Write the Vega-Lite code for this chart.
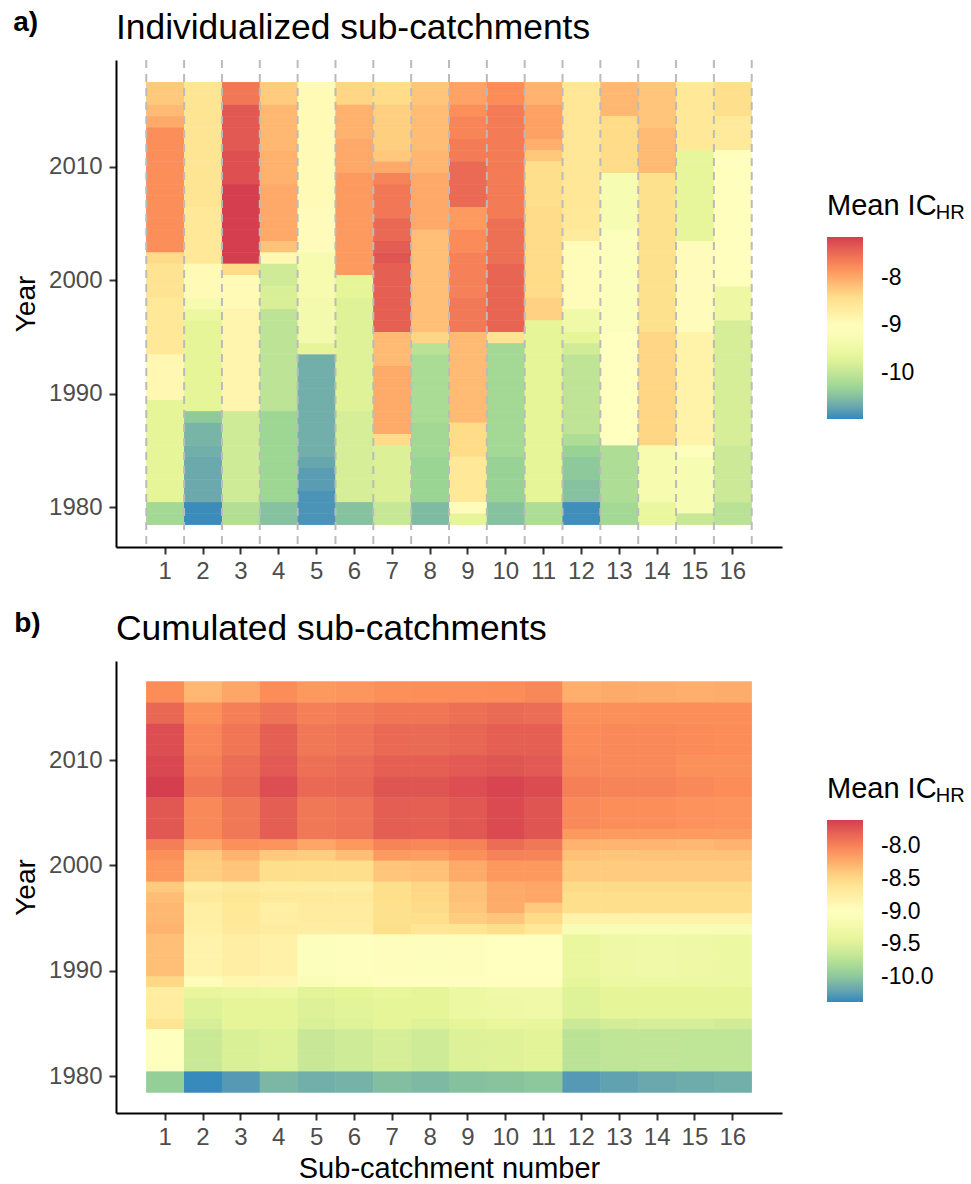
{"$schema":"https://vega.github.io/schema/vega-lite/v6.json","background":"white","padding":{"left":12,"top":9,"right":0,"bottom":0},"spacing":26,"resolve":{"scale":{"color":"independent"},"legend":{"color":"independent"}},
"datasets":{"a":[
{"c":1,"y":2017,"v":-8.23},{"c":1,"y":2016,"v":-8.23},{"c":1,"y":2015,"v":-8.11},{"c":1,"y":2014,"v":-7.99},{"c":1,"y":2013,"v":-7.78},{"c":1,"y":2012,"v":-7.78},{"c":1,"y":2011,"v":-7.78},{"c":1,"y":2010,"v":-7.78},{"c":1,"y":2009,"v":-7.78},{"c":1,"y":2008,"v":-7.78},{"c":1,"y":2007,"v":-7.78},{"c":1,"y":2006,"v":-7.78},{"c":1,"y":2005,"v":-7.78},{"c":1,"y":2004,"v":-7.78},{"c":1,"y":2003,"v":-7.78},{"c":1,"y":2002,"v":-8.37},{"c":1,"y":2001,"v":-8.5},{"c":1,"y":2000,"v":-8.5},{"c":1,"y":1999,"v":-8.5},{"c":1,"y":1998,"v":-8.58},{"c":1,"y":1997,"v":-8.58},{"c":1,"y":1996,"v":-8.58},{"c":1,"y":1995,"v":-8.58},{"c":1,"y":1994,"v":-8.58},{"c":1,"y":1993,"v":-8.9},{"c":1,"y":1992,"v":-8.9},{"c":1,"y":1991,"v":-8.9},{"c":1,"y":1990,"v":-8.9},{"c":1,"y":1989,"v":-9.68},{"c":1,"y":1988,"v":-9.68},{"c":1,"y":1987,"v":-9.68},{"c":1,"y":1986,"v":-9.68},{"c":1,"y":1985,"v":-9.68},{"c":1,"y":1984,"v":-9.68},{"c":1,"y":1983,"v":-9.68},{"c":1,"y":1982,"v":-9.68},{"c":1,"y":1981,"v":-9.68},{"c":1,"y":1980,"v":-10.25},{"c":1,"y":1979,"v":-10.25},
{"c":2,"y":2017,"v":-8.52},{"c":2,"y":2016,"v":-8.52},{"c":2,"y":2015,"v":-8.52},{"c":2,"y":2014,"v":-8.52},{"c":2,"y":2013,"v":-8.52},{"c":2,"y":2012,"v":-8.52},{"c":2,"y":2011,"v":-8.52},{"c":2,"y":2010,"v":-8.52},{"c":2,"y":2009,"v":-8.52},{"c":2,"y":2008,"v":-8.52},{"c":2,"y":2007,"v":-8.52},{"c":2,"y":2006,"v":-8.58},{"c":2,"y":2005,"v":-8.58},{"c":2,"y":2004,"v":-8.58},{"c":2,"y":2003,"v":-8.58},{"c":2,"y":2002,"v":-8.58},{"c":2,"y":2001,"v":-8.95},{"c":2,"y":2000,"v":-8.95},{"c":2,"y":1999,"v":-8.95},{"c":2,"y":1998,"v":-9.3},{"c":2,"y":1997,"v":-9.55},{"c":2,"y":1996,"v":-9.7},{"c":2,"y":1995,"v":-9.7},{"c":2,"y":1994,"v":-9.7},{"c":2,"y":1993,"v":-9.7},{"c":2,"y":1992,"v":-9.7},{"c":2,"y":1991,"v":-9.7},{"c":2,"y":1990,"v":-9.7},{"c":2,"y":1989,"v":-9.7},{"c":2,"y":1988,"v":-10.42},{"c":2,"y":1987,"v":-10.6},{"c":2,"y":1986,"v":-10.6},{"c":2,"y":1985,"v":-10.65},{"c":2,"y":1984,"v":-10.7},{"c":2,"y":1983,"v":-10.7},{"c":2,"y":1982,"v":-10.7},{"c":2,"y":1981,"v":-10.7},{"c":2,"y":1980,"v":-10.95},{"c":2,"y":1979,"v":-10.95},
{"c":3,"y":2017,"v":-7.58},{"c":3,"y":2016,"v":-7.58},{"c":3,"y":2015,"v":-7.33},{"c":3,"y":2014,"v":-7.33},{"c":3,"y":2013,"v":-7.33},{"c":3,"y":2012,"v":-7.33},{"c":3,"y":2011,"v":-7.25},{"c":3,"y":2010,"v":-7.25},{"c":3,"y":2009,"v":-7.25},{"c":3,"y":2008,"v":-7.13},{"c":3,"y":2007,"v":-7.13},{"c":3,"y":2006,"v":-7.13},{"c":3,"y":2005,"v":-7.13},{"c":3,"y":2004,"v":-7.13},{"c":3,"y":2003,"v":-7.13},{"c":3,"y":2002,"v":-7.13},{"c":3,"y":2001,"v":-8.38},{"c":3,"y":2000,"v":-8.95},{"c":3,"y":1999,"v":-8.95},{"c":3,"y":1998,"v":-8.95},{"c":3,"y":1997,"v":-8.85},{"c":3,"y":1996,"v":-8.85},{"c":3,"y":1995,"v":-8.85},{"c":3,"y":1994,"v":-8.85},{"c":3,"y":1993,"v":-8.85},{"c":3,"y":1992,"v":-8.85},{"c":3,"y":1991,"v":-8.85},{"c":3,"y":1990,"v":-8.85},{"c":3,"y":1989,"v":-8.85},{"c":3,"y":1988,"v":-9.9},{"c":3,"y":1987,"v":-9.9},{"c":3,"y":1986,"v":-9.9},{"c":3,"y":1985,"v":-9.9},{"c":3,"y":1984,"v":-9.9},{"c":3,"y":1983,"v":-9.9},{"c":3,"y":1982,"v":-9.9},{"c":3,"y":1981,"v":-9.9},{"c":3,"y":1980,"v":-10.13},{"c":3,"y":1979,"v":-10.13},
{"c":4,"y":2017,"v":-8.25},{"c":4,"y":2016,"v":-8.25},{"c":4,"y":2015,"v":-8.1},{"c":4,"y":2014,"v":-8.1},{"c":4,"y":2013,"v":-8.1},{"c":4,"y":2012,"v":-8.1},{"c":4,"y":2011,"v":-8.05},{"c":4,"y":2010,"v":-8.05},{"c":4,"y":2009,"v":-8.05},{"c":4,"y":2008,"v":-7.98},{"c":4,"y":2007,"v":-7.98},{"c":4,"y":2006,"v":-7.98},{"c":4,"y":2005,"v":-7.98},{"c":4,"y":2004,"v":-7.98},{"c":4,"y":2003,"v":-8.18},{"c":4,"y":2002,"v":-8.9},{"c":4,"y":2001,"v":-9.89},{"c":4,"y":2000,"v":-9.89},{"c":4,"y":1999,"v":-9.81},{"c":4,"y":1998,"v":-9.81},{"c":4,"y":1997,"v":-10.05},{"c":4,"y":1996,"v":-10.05},{"c":4,"y":1995,"v":-10.05},{"c":4,"y":1994,"v":-10.05},{"c":4,"y":1993,"v":-10.05},{"c":4,"y":1992,"v":-10.05},{"c":4,"y":1991,"v":-10.05},{"c":4,"y":1990,"v":-10.05},{"c":4,"y":1989,"v":-10.05},{"c":4,"y":1988,"v":-10.3},{"c":4,"y":1987,"v":-10.3},{"c":4,"y":1986,"v":-10.3},{"c":4,"y":1985,"v":-10.3},{"c":4,"y":1984,"v":-10.3},{"c":4,"y":1983,"v":-10.3},{"c":4,"y":1982,"v":-10.3},{"c":4,"y":1981,"v":-10.3},{"c":4,"y":1980,"v":-10.5},{"c":4,"y":1979,"v":-10.5},
{"c":5,"y":2017,"v":-8.95},{"c":5,"y":2016,"v":-8.95},{"c":5,"y":2015,"v":-8.95},{"c":5,"y":2014,"v":-8.95},{"c":5,"y":2013,"v":-8.95},{"c":5,"y":2012,"v":-8.95},{"c":5,"y":2011,"v":-8.95},{"c":5,"y":2010,"v":-8.95},{"c":5,"y":2009,"v":-8.95},{"c":5,"y":2008,"v":-8.95},{"c":5,"y":2007,"v":-8.95},{"c":5,"y":2006,"v":-9},{"c":5,"y":2005,"v":-9},{"c":5,"y":2004,"v":-9},{"c":5,"y":2003,"v":-9},{"c":5,"y":2002,"v":-9.3},{"c":5,"y":2001,"v":-9.3},{"c":5,"y":2000,"v":-9.3},{"c":5,"y":1999,"v":-9.3},{"c":5,"y":1998,"v":-9.35},{"c":5,"y":1997,"v":-9.35},{"c":5,"y":1996,"v":-9.35},{"c":5,"y":1995,"v":-9.35},{"c":5,"y":1994,"v":-9.68},{"c":5,"y":1993,"v":-10.65},{"c":5,"y":1992,"v":-10.65},{"c":5,"y":1991,"v":-10.65},{"c":5,"y":1990,"v":-10.65},{"c":5,"y":1989,"v":-10.65},{"c":5,"y":1988,"v":-10.65},{"c":5,"y":1987,"v":-10.65},{"c":5,"y":1986,"v":-10.65},{"c":5,"y":1985,"v":-10.65},{"c":5,"y":1984,"v":-10.72},{"c":5,"y":1983,"v":-10.8},{"c":5,"y":1982,"v":-10.8},{"c":5,"y":1981,"v":-10.88},{"c":5,"y":1980,"v":-10.88},{"c":5,"y":1979,"v":-10.88},
{"c":6,"y":2017,"v":-8.33},{"c":6,"y":2016,"v":-8.33},{"c":6,"y":2015,"v":-8.05},{"c":6,"y":2014,"v":-8.05},{"c":6,"y":2013,"v":-8.05},{"c":6,"y":2012,"v":-7.98},{"c":6,"y":2011,"v":-7.98},{"c":6,"y":2010,"v":-7.98},{"c":6,"y":2009,"v":-7.87},{"c":6,"y":2008,"v":-7.87},{"c":6,"y":2007,"v":-7.87},{"c":6,"y":2006,"v":-7.87},{"c":6,"y":2005,"v":-7.87},{"c":6,"y":2004,"v":-7.87},{"c":6,"y":2003,"v":-7.87},{"c":6,"y":2002,"v":-7.87},{"c":6,"y":2001,"v":-7.87},{"c":6,"y":2000,"v":-9.68},{"c":6,"y":1999,"v":-9.68},{"c":6,"y":1998,"v":-9.75},{"c":6,"y":1997,"v":-9.75},{"c":6,"y":1996,"v":-9.75},{"c":6,"y":1995,"v":-9.75},{"c":6,"y":1994,"v":-9.75},{"c":6,"y":1993,"v":-9.75},{"c":6,"y":1992,"v":-9.75},{"c":6,"y":1991,"v":-9.75},{"c":6,"y":1990,"v":-9.75},{"c":6,"y":1989,"v":-9.75},{"c":6,"y":1988,"v":-9.84},{"c":6,"y":1987,"v":-9.84},{"c":6,"y":1986,"v":-9.84},{"c":6,"y":1985,"v":-9.84},{"c":6,"y":1984,"v":-9.84},{"c":6,"y":1983,"v":-9.84},{"c":6,"y":1982,"v":-9.84},{"c":6,"y":1981,"v":-9.84},{"c":6,"y":1980,"v":-10.5},{"c":6,"y":1979,"v":-10.5},
{"c":7,"y":2017,"v":-8.38},{"c":7,"y":2016,"v":-8.38},{"c":7,"y":2015,"v":-8.28},{"c":7,"y":2014,"v":-8.28},{"c":7,"y":2013,"v":-8.28},{"c":7,"y":2012,"v":-8.28},{"c":7,"y":2011,"v":-8.22},{"c":7,"y":2010,"v":-7.98},{"c":7,"y":2009,"v":-7.68},{"c":7,"y":2008,"v":-7.58},{"c":7,"y":2007,"v":-7.58},{"c":7,"y":2006,"v":-7.58},{"c":7,"y":2005,"v":-7.46},{"c":7,"y":2004,"v":-7.46},{"c":7,"y":2003,"v":-7.36},{"c":7,"y":2002,"v":-7.3},{"c":7,"y":2001,"v":-7.38},{"c":7,"y":2000,"v":-7.38},{"c":7,"y":1999,"v":-7.38},{"c":7,"y":1998,"v":-7.38},{"c":7,"y":1997,"v":-7.38},{"c":7,"y":1996,"v":-7.38},{"c":7,"y":1995,"v":-8.12},{"c":7,"y":1994,"v":-8.12},{"c":7,"y":1993,"v":-8.12},{"c":7,"y":1992,"v":-8},{"c":7,"y":1991,"v":-8},{"c":7,"y":1990,"v":-8},{"c":7,"y":1989,"v":-8},{"c":7,"y":1988,"v":-8},{"c":7,"y":1987,"v":-8},{"c":7,"y":1986,"v":-8.38},{"c":7,"y":1985,"v":-9.79},{"c":7,"y":1984,"v":-9.79},{"c":7,"y":1983,"v":-9.79},{"c":7,"y":1982,"v":-9.79},{"c":7,"y":1981,"v":-9.79},{"c":7,"y":1980,"v":-9.98},{"c":7,"y":1979,"v":-9.98},
{"c":8,"y":2017,"v":-8.2},{"c":8,"y":2016,"v":-8.2},{"c":8,"y":2015,"v":-8.13},{"c":8,"y":2014,"v":-8.13},{"c":8,"y":2013,"v":-8.13},{"c":8,"y":2012,"v":-8.13},{"c":8,"y":2011,"v":-8.08},{"c":8,"y":2010,"v":-8.08},{"c":8,"y":2009,"v":-7.98},{"c":8,"y":2008,"v":-7.98},{"c":8,"y":2007,"v":-7.98},{"c":8,"y":2006,"v":-7.98},{"c":8,"y":2005,"v":-7.98},{"c":8,"y":2004,"v":-8.15},{"c":8,"y":2003,"v":-8.15},{"c":8,"y":2002,"v":-8.15},{"c":8,"y":2001,"v":-8.15},{"c":8,"y":2000,"v":-8.15},{"c":8,"y":1999,"v":-8.15},{"c":8,"y":1998,"v":-8.15},{"c":8,"y":1997,"v":-8.15},{"c":8,"y":1996,"v":-8.15},{"c":8,"y":1995,"v":-8.33},{"c":8,"y":1994,"v":-10.07},{"c":8,"y":1993,"v":-10.2},{"c":8,"y":1992,"v":-10.2},{"c":8,"y":1991,"v":-10.2},{"c":8,"y":1990,"v":-10.2},{"c":8,"y":1989,"v":-10.2},{"c":8,"y":1988,"v":-10.2},{"c":8,"y":1987,"v":-10.27},{"c":8,"y":1986,"v":-10.27},{"c":8,"y":1985,"v":-10.27},{"c":8,"y":1984,"v":-10.33},{"c":8,"y":1983,"v":-10.33},{"c":8,"y":1982,"v":-10.33},{"c":8,"y":1981,"v":-10.33},{"c":8,"y":1980,"v":-10.55},{"c":8,"y":1979,"v":-10.55},
{"c":9,"y":2017,"v":-7.93},{"c":9,"y":2016,"v":-7.93},{"c":9,"y":2015,"v":-7.79},{"c":9,"y":2014,"v":-7.7},{"c":9,"y":2013,"v":-7.7},{"c":9,"y":2012,"v":-7.62},{"c":9,"y":2011,"v":-7.62},{"c":9,"y":2010,"v":-7.47},{"c":9,"y":2009,"v":-7.47},{"c":9,"y":2008,"v":-7.47},{"c":9,"y":2007,"v":-7.47},{"c":9,"y":2006,"v":-7.87},{"c":9,"y":2005,"v":-7.87},{"c":9,"y":2004,"v":-7.75},{"c":9,"y":2003,"v":-7.75},{"c":9,"y":2002,"v":-7.67},{"c":9,"y":2001,"v":-7.67},{"c":9,"y":2000,"v":-7.67},{"c":9,"y":1999,"v":-7.67},{"c":9,"y":1998,"v":-7.6},{"c":9,"y":1997,"v":-7.6},{"c":9,"y":1996,"v":-7.6},{"c":9,"y":1995,"v":-8.12},{"c":9,"y":1994,"v":-8.12},{"c":9,"y":1993,"v":-8.12},{"c":9,"y":1992,"v":-8.12},{"c":9,"y":1991,"v":-8.12},{"c":9,"y":1990,"v":-8.12},{"c":9,"y":1989,"v":-8.12},{"c":9,"y":1988,"v":-8.12},{"c":9,"y":1987,"v":-8.38},{"c":9,"y":1986,"v":-8.38},{"c":9,"y":1985,"v":-8.38},{"c":9,"y":1984,"v":-8.58},{"c":9,"y":1983,"v":-8.58},{"c":9,"y":1982,"v":-8.58},{"c":9,"y":1981,"v":-8.58},{"c":9,"y":1980,"v":-9},{"c":9,"y":1979,"v":-9.68},
{"c":10,"y":2017,"v":-7.77},{"c":10,"y":2016,"v":-7.77},{"c":10,"y":2015,"v":-7.62},{"c":10,"y":2014,"v":-7.62},{"c":10,"y":2013,"v":-7.62},{"c":10,"y":2012,"v":-7.62},{"c":10,"y":2011,"v":-7.62},{"c":10,"y":2010,"v":-7.62},{"c":10,"y":2009,"v":-7.62},{"c":10,"y":2008,"v":-7.62},{"c":10,"y":2007,"v":-7.62},{"c":10,"y":2006,"v":-7.62},{"c":10,"y":2005,"v":-7.52},{"c":10,"y":2004,"v":-7.52},{"c":10,"y":2003,"v":-7.52},{"c":10,"y":2002,"v":-7.52},{"c":10,"y":2001,"v":-7.43},{"c":10,"y":2000,"v":-7.43},{"c":10,"y":1999,"v":-7.43},{"c":10,"y":1998,"v":-7.43},{"c":10,"y":1997,"v":-7.43},{"c":10,"y":1996,"v":-7.43},{"c":10,"y":1995,"v":-8.5},{"c":10,"y":1994,"v":-10.25},{"c":10,"y":1993,"v":-10.25},{"c":10,"y":1992,"v":-10.25},{"c":10,"y":1991,"v":-10.25},{"c":10,"y":1990,"v":-10.25},{"c":10,"y":1989,"v":-10.25},{"c":10,"y":1988,"v":-10.25},{"c":10,"y":1987,"v":-10.25},{"c":10,"y":1986,"v":-10.25},{"c":10,"y":1985,"v":-10.25},{"c":10,"y":1984,"v":-10.35},{"c":10,"y":1983,"v":-10.35},{"c":10,"y":1982,"v":-10.35},{"c":10,"y":1981,"v":-10.35},{"c":10,"y":1980,"v":-10.5},{"c":10,"y":1979,"v":-10.5},
{"c":11,"y":2017,"v":-8.06},{"c":11,"y":2016,"v":-8.06},{"c":11,"y":2015,"v":-7.92},{"c":11,"y":2014,"v":-7.92},{"c":11,"y":2013,"v":-7.92},{"c":11,"y":2012,"v":-8.03},{"c":11,"y":2011,"v":-8.22},{"c":11,"y":2010,"v":-8.42},{"c":11,"y":2009,"v":-8.42},{"c":11,"y":2008,"v":-8.42},{"c":11,"y":2007,"v":-8.42},{"c":11,"y":2006,"v":-8.38},{"c":11,"y":2005,"v":-8.38},{"c":11,"y":2004,"v":-8.38},{"c":11,"y":2003,"v":-8.38},{"c":11,"y":2002,"v":-8.38},{"c":11,"y":2001,"v":-8.38},{"c":11,"y":2000,"v":-8.38},{"c":11,"y":1999,"v":-8.38},{"c":11,"y":1998,"v":-8.3},{"c":11,"y":1997,"v":-8.3},{"c":11,"y":1996,"v":-9.68},{"c":11,"y":1995,"v":-9.68},{"c":11,"y":1994,"v":-9.68},{"c":11,"y":1993,"v":-9.68},{"c":11,"y":1992,"v":-9.68},{"c":11,"y":1991,"v":-9.68},{"c":11,"y":1990,"v":-9.68},{"c":11,"y":1989,"v":-9.68},{"c":11,"y":1988,"v":-9.68},{"c":11,"y":1987,"v":-9.68},{"c":11,"y":1986,"v":-9.68},{"c":11,"y":1985,"v":-9.68},{"c":11,"y":1984,"v":-9.68},{"c":11,"y":1983,"v":-9.68},{"c":11,"y":1982,"v":-9.68},{"c":11,"y":1981,"v":-9.68},{"c":11,"y":1980,"v":-10.17},{"c":11,"y":1979,"v":-10.17},
{"c":12,"y":2017,"v":-8.56},{"c":12,"y":2016,"v":-8.56},{"c":12,"y":2015,"v":-8.56},{"c":12,"y":2014,"v":-8.56},{"c":12,"y":2013,"v":-8.56},{"c":12,"y":2012,"v":-8.56},{"c":12,"y":2011,"v":-8.56},{"c":12,"y":2010,"v":-8.56},{"c":12,"y":2009,"v":-8.56},{"c":12,"y":2008,"v":-8.56},{"c":12,"y":2007,"v":-8.56},{"c":12,"y":2006,"v":-8.58},{"c":12,"y":2005,"v":-8.58},{"c":12,"y":2004,"v":-8.65},{"c":12,"y":2003,"v":-8.98},{"c":12,"y":2002,"v":-8.98},{"c":12,"y":2001,"v":-8.98},{"c":12,"y":2000,"v":-8.98},{"c":12,"y":1999,"v":-8.98},{"c":12,"y":1998,"v":-8.98},{"c":12,"y":1997,"v":-9.44},{"c":12,"y":1996,"v":-9.44},{"c":12,"y":1995,"v":-9.7},{"c":12,"y":1994,"v":-9.88},{"c":12,"y":1993,"v":-10.03},{"c":12,"y":1992,"v":-10.03},{"c":12,"y":1991,"v":-10.03},{"c":12,"y":1990,"v":-10.03},{"c":12,"y":1989,"v":-10.03},{"c":12,"y":1988,"v":-10.03},{"c":12,"y":1987,"v":-10.03},{"c":12,"y":1986,"v":-10.17},{"c":12,"y":1985,"v":-10.35},{"c":12,"y":1984,"v":-10.43},{"c":12,"y":1983,"v":-10.43},{"c":12,"y":1982,"v":-10.5},{"c":12,"y":1981,"v":-10.5},{"c":12,"y":1980,"v":-10.93},{"c":12,"y":1979,"v":-10.93},
{"c":13,"y":2017,"v":-8.1},{"c":13,"y":2016,"v":-8.1},{"c":13,"y":2015,"v":-8.1},{"c":13,"y":2014,"v":-8.38},{"c":13,"y":2013,"v":-8.38},{"c":13,"y":2012,"v":-8.38},{"c":13,"y":2011,"v":-8.38},{"c":13,"y":2010,"v":-8.38},{"c":13,"y":2009,"v":-9.25},{"c":13,"y":2008,"v":-9.25},{"c":13,"y":2007,"v":-9.25},{"c":13,"y":2006,"v":-9.25},{"c":13,"y":2005,"v":-9.25},{"c":13,"y":2004,"v":-9.12},{"c":13,"y":2003,"v":-9.12},{"c":13,"y":2002,"v":-9.12},{"c":13,"y":2001,"v":-9.12},{"c":13,"y":2000,"v":-9.12},{"c":13,"y":1999,"v":-9.12},{"c":13,"y":1998,"v":-9.12},{"c":13,"y":1997,"v":-9.12},{"c":13,"y":1996,"v":-9.12},{"c":13,"y":1995,"v":-9.05},{"c":13,"y":1994,"v":-9.05},{"c":13,"y":1993,"v":-9.05},{"c":13,"y":1992,"v":-9.05},{"c":13,"y":1991,"v":-9.05},{"c":13,"y":1990,"v":-9.05},{"c":13,"y":1989,"v":-9.05},{"c":13,"y":1988,"v":-9.05},{"c":13,"y":1987,"v":-9.05},{"c":13,"y":1986,"v":-9.05},{"c":13,"y":1985,"v":-10.17},{"c":13,"y":1984,"v":-10.17},{"c":13,"y":1983,"v":-10.17},{"c":13,"y":1982,"v":-10.17},{"c":13,"y":1981,"v":-10.17},{"c":13,"y":1980,"v":-10.25},{"c":13,"y":1979,"v":-10.25},
{"c":14,"y":2017,"v":-8.2},{"c":14,"y":2016,"v":-8.2},{"c":14,"y":2015,"v":-8.2},{"c":14,"y":2014,"v":-8.2},{"c":14,"y":2013,"v":-8.12},{"c":14,"y":2012,"v":-8.12},{"c":14,"y":2011,"v":-8.12},{"c":14,"y":2010,"v":-8.12},{"c":14,"y":2009,"v":-8.43},{"c":14,"y":2008,"v":-8.43},{"c":14,"y":2007,"v":-8.43},{"c":14,"y":2006,"v":-8.43},{"c":14,"y":2005,"v":-8.43},{"c":14,"y":2004,"v":-8.43},{"c":14,"y":2003,"v":-8.43},{"c":14,"y":2002,"v":-8.43},{"c":14,"y":2001,"v":-8.43},{"c":14,"y":2000,"v":-8.43},{"c":14,"y":1999,"v":-8.43},{"c":14,"y":1998,"v":-8.43},{"c":14,"y":1997,"v":-8.43},{"c":14,"y":1996,"v":-8.43},{"c":14,"y":1995,"v":-8.33},{"c":14,"y":1994,"v":-8.33},{"c":14,"y":1993,"v":-8.33},{"c":14,"y":1992,"v":-8.33},{"c":14,"y":1991,"v":-8.33},{"c":14,"y":1990,"v":-8.33},{"c":14,"y":1989,"v":-8.33},{"c":14,"y":1988,"v":-8.33},{"c":14,"y":1987,"v":-8.33},{"c":14,"y":1986,"v":-8.33},{"c":14,"y":1985,"v":-9.3},{"c":14,"y":1984,"v":-9.3},{"c":14,"y":1983,"v":-9.3},{"c":14,"y":1982,"v":-9.3},{"c":14,"y":1981,"v":-9.3},{"c":14,"y":1980,"v":-9.6},{"c":14,"y":1979,"v":-9.6},
{"c":15,"y":2017,"v":-8.58},{"c":15,"y":2016,"v":-8.58},{"c":15,"y":2015,"v":-8.58},{"c":15,"y":2014,"v":-8.58},{"c":15,"y":2013,"v":-8.58},{"c":15,"y":2012,"v":-8.58},{"c":15,"y":2011,"v":-9.65},{"c":15,"y":2010,"v":-9.65},{"c":15,"y":2009,"v":-9.65},{"c":15,"y":2008,"v":-9.65},{"c":15,"y":2007,"v":-9.65},{"c":15,"y":2006,"v":-9.65},{"c":15,"y":2005,"v":-9.65},{"c":15,"y":2004,"v":-9.65},{"c":15,"y":2003,"v":-9},{"c":15,"y":2002,"v":-9},{"c":15,"y":2001,"v":-9},{"c":15,"y":2000,"v":-9},{"c":15,"y":1999,"v":-9},{"c":15,"y":1998,"v":-9},{"c":15,"y":1997,"v":-9},{"c":15,"y":1996,"v":-9},{"c":15,"y":1995,"v":-8.78},{"c":15,"y":1994,"v":-8.78},{"c":15,"y":1993,"v":-8.78},{"c":15,"y":1992,"v":-8.78},{"c":15,"y":1991,"v":-8.78},{"c":15,"y":1990,"v":-8.78},{"c":15,"y":1989,"v":-8.78},{"c":15,"y":1988,"v":-8.78},{"c":15,"y":1987,"v":-8.78},{"c":15,"y":1986,"v":-8.78},{"c":15,"y":1985,"v":-9.1},{"c":15,"y":1984,"v":-9.25},{"c":15,"y":1983,"v":-9.25},{"c":15,"y":1982,"v":-9.25},{"c":15,"y":1981,"v":-9.25},{"c":15,"y":1980,"v":-9.25},{"c":15,"y":1979,"v":-9.95},
{"c":16,"y":2017,"v":-8.42},{"c":16,"y":2016,"v":-8.42},{"c":16,"y":2015,"v":-8.42},{"c":16,"y":2014,"v":-8.62},{"c":16,"y":2013,"v":-8.62},{"c":16,"y":2012,"v":-8.62},{"c":16,"y":2011,"v":-9.03},{"c":16,"y":2010,"v":-9.03},{"c":16,"y":2009,"v":-9.03},{"c":16,"y":2008,"v":-9.03},{"c":16,"y":2007,"v":-9.03},{"c":16,"y":2006,"v":-9.03},{"c":16,"y":2005,"v":-9.03},{"c":16,"y":2004,"v":-9.03},{"c":16,"y":2003,"v":-9.03},{"c":16,"y":2002,"v":-9.03},{"c":16,"y":2001,"v":-9.03},{"c":16,"y":2000,"v":-9.03},{"c":16,"y":1999,"v":-9.5},{"c":16,"y":1998,"v":-9.5},{"c":16,"y":1997,"v":-9.5},{"c":16,"y":1996,"v":-9.84},{"c":16,"y":1995,"v":-9.84},{"c":16,"y":1994,"v":-9.84},{"c":16,"y":1993,"v":-9.84},{"c":16,"y":1992,"v":-9.84},{"c":16,"y":1991,"v":-9.84},{"c":16,"y":1990,"v":-9.84},{"c":16,"y":1989,"v":-9.84},{"c":16,"y":1988,"v":-9.84},{"c":16,"y":1987,"v":-9.84},{"c":16,"y":1986,"v":-9.84},{"c":16,"y":1985,"v":-9.93},{"c":16,"y":1984,"v":-9.93},{"c":16,"y":1983,"v":-9.93},{"c":16,"y":1982,"v":-9.93},{"c":16,"y":1981,"v":-9.93},{"c":16,"y":1980,"v":-10.07},{"c":16,"y":1979,"v":-10.07}
],"b":[
{"c":1,"y":2017,"v":-8.06},{"c":1,"y":2016,"v":-8.06},{"c":1,"y":2015,"v":-7.83},{"c":1,"y":2014,"v":-7.83},{"c":1,"y":2013,"v":-7.68},{"c":1,"y":2012,"v":-7.68},{"c":1,"y":2011,"v":-7.68},{"c":1,"y":2010,"v":-7.65},{"c":1,"y":2009,"v":-7.65},{"c":1,"y":2008,"v":-7.6},{"c":1,"y":2007,"v":-7.6},{"c":1,"y":2006,"v":-7.74},{"c":1,"y":2005,"v":-7.74},{"c":1,"y":2004,"v":-7.74},{"c":1,"y":2003,"v":-7.74},{"c":1,"y":2002,"v":-7.97},{"c":1,"y":2001,"v":-8.08},{"c":1,"y":2000,"v":-8.12},{"c":1,"y":1999,"v":-8.12},{"c":1,"y":1998,"v":-8.4},{"c":1,"y":1997,"v":-8.32},{"c":1,"y":1996,"v":-8.3},{"c":1,"y":1995,"v":-8.3},{"c":1,"y":1994,"v":-8.27},{"c":1,"y":1993,"v":-8.34},{"c":1,"y":1992,"v":-8.34},{"c":1,"y":1991,"v":-8.34},{"c":1,"y":1990,"v":-8.34},{"c":1,"y":1989,"v":-8.48},{"c":1,"y":1988,"v":-8.72},{"c":1,"y":1987,"v":-8.7},{"c":1,"y":1986,"v":-8.7},{"c":1,"y":1985,"v":-8.6},{"c":1,"y":1984,"v":-9},{"c":1,"y":1983,"v":-9},{"c":1,"y":1982,"v":-9},{"c":1,"y":1981,"v":-9},{"c":1,"y":1980,"v":-9.95},{"c":1,"y":1979,"v":-9.95},
{"c":2,"y":2017,"v":-8.29},{"c":2,"y":2016,"v":-8.29},{"c":2,"y":2015,"v":-8.08},{"c":2,"y":2014,"v":-8.08},{"c":2,"y":2013,"v":-8.02},{"c":2,"y":2012,"v":-8.02},{"c":2,"y":2011,"v":-8.02},{"c":2,"y":2010,"v":-7.98},{"c":2,"y":2009,"v":-7.98},{"c":2,"y":2008,"v":-7.92},{"c":2,"y":2007,"v":-7.92},{"c":2,"y":2006,"v":-8.04},{"c":2,"y":2005,"v":-8.04},{"c":2,"y":2004,"v":-8.04},{"c":2,"y":2003,"v":-8.04},{"c":2,"y":2002,"v":-8.2},{"c":2,"y":2001,"v":-8.4},{"c":2,"y":2000,"v":-8.43},{"c":2,"y":1999,"v":-8.43},{"c":2,"y":1998,"v":-8.73},{"c":2,"y":1997,"v":-8.67},{"c":2,"y":1996,"v":-8.75},{"c":2,"y":1995,"v":-8.75},{"c":2,"y":1994,"v":-8.76},{"c":2,"y":1993,"v":-8.81},{"c":2,"y":1992,"v":-8.81},{"c":2,"y":1991,"v":-8.81},{"c":2,"y":1990,"v":-8.81},{"c":2,"y":1989,"v":-8.95},{"c":2,"y":1988,"v":-9.4},{"c":2,"y":1987,"v":-9.5},{"c":2,"y":1986,"v":-9.5},{"c":2,"y":1985,"v":-9.55},{"c":2,"y":1984,"v":-9.63},{"c":2,"y":1983,"v":-9.63},{"c":2,"y":1982,"v":-9.63},{"c":2,"y":1981,"v":-9.63},{"c":2,"y":1980,"v":-10.37},{"c":2,"y":1979,"v":-10.37},
{"c":3,"y":2017,"v":-8.2},{"c":3,"y":2016,"v":-8.2},{"c":3,"y":2015,"v":-7.98},{"c":3,"y":2014,"v":-7.98},{"c":3,"y":2013,"v":-7.92},{"c":3,"y":2012,"v":-7.92},{"c":3,"y":2011,"v":-7.92},{"c":3,"y":2010,"v":-7.86},{"c":3,"y":2009,"v":-7.86},{"c":3,"y":2008,"v":-7.83},{"c":3,"y":2007,"v":-7.83},{"c":3,"y":2006,"v":-7.93},{"c":3,"y":2005,"v":-7.93},{"c":3,"y":2004,"v":-7.93},{"c":3,"y":2003,"v":-7.93},{"c":3,"y":2002,"v":-8.08},{"c":3,"y":2001,"v":-8.27},{"c":3,"y":2000,"v":-8.38},{"c":3,"y":1999,"v":-8.38},{"c":3,"y":1998,"v":-8.66},{"c":3,"y":1997,"v":-8.61},{"c":3,"y":1996,"v":-8.64},{"c":3,"y":1995,"v":-8.64},{"c":3,"y":1994,"v":-8.66},{"c":3,"y":1993,"v":-8.74},{"c":3,"y":1992,"v":-8.74},{"c":3,"y":1991,"v":-8.74},{"c":3,"y":1990,"v":-8.74},{"c":3,"y":1989,"v":-8.85},{"c":3,"y":1988,"v":-9.35},{"c":3,"y":1987,"v":-9.45},{"c":3,"y":1986,"v":-9.45},{"c":3,"y":1985,"v":-9.45},{"c":3,"y":1984,"v":-9.53},{"c":3,"y":1983,"v":-9.53},{"c":3,"y":1982,"v":-9.53},{"c":3,"y":1981,"v":-9.53},{"c":3,"y":1980,"v":-10.27},{"c":3,"y":1979,"v":-10.27},
{"c":4,"y":2017,"v":-8.06},{"c":4,"y":2016,"v":-8.06},{"c":4,"y":2015,"v":-7.9},{"c":4,"y":2014,"v":-7.9},{"c":4,"y":2013,"v":-7.78},{"c":4,"y":2012,"v":-7.78},{"c":4,"y":2011,"v":-7.78},{"c":4,"y":2010,"v":-7.75},{"c":4,"y":2009,"v":-7.75},{"c":4,"y":2008,"v":-7.68},{"c":4,"y":2007,"v":-7.68},{"c":4,"y":2006,"v":-7.77},{"c":4,"y":2005,"v":-7.77},{"c":4,"y":2004,"v":-7.77},{"c":4,"y":2003,"v":-7.77},{"c":4,"y":2002,"v":-8.1},{"c":4,"y":2001,"v":-8.4},{"c":4,"y":2000,"v":-8.53},{"c":4,"y":1999,"v":-8.53},{"c":4,"y":1998,"v":-8.7},{"c":4,"y":1997,"v":-8.67},{"c":4,"y":1996,"v":-8.76},{"c":4,"y":1995,"v":-8.74},{"c":4,"y":1994,"v":-8.7},{"c":4,"y":1993,"v":-8.78},{"c":4,"y":1992,"v":-8.78},{"c":4,"y":1991,"v":-8.78},{"c":4,"y":1990,"v":-8.78},{"c":4,"y":1989,"v":-8.87},{"c":4,"y":1988,"v":-9.33},{"c":4,"y":1987,"v":-9.45},{"c":4,"y":1986,"v":-9.45},{"c":4,"y":1985,"v":-9.46},{"c":4,"y":1984,"v":-9.5},{"c":4,"y":1983,"v":-9.5},{"c":4,"y":1982,"v":-9.5},{"c":4,"y":1981,"v":-9.5},{"c":4,"y":1980,"v":-10.09},{"c":4,"y":1979,"v":-10.09},
{"c":5,"y":2017,"v":-8.12},{"c":5,"y":2016,"v":-8.12},{"c":5,"y":2015,"v":-7.98},{"c":5,"y":2014,"v":-7.98},{"c":5,"y":2013,"v":-7.93},{"c":5,"y":2012,"v":-7.93},{"c":5,"y":2011,"v":-7.93},{"c":5,"y":2010,"v":-7.88},{"c":5,"y":2009,"v":-7.88},{"c":5,"y":2008,"v":-7.84},{"c":5,"y":2007,"v":-7.84},{"c":5,"y":2006,"v":-7.93},{"c":5,"y":2005,"v":-7.93},{"c":5,"y":2004,"v":-7.93},{"c":5,"y":2003,"v":-7.93},{"c":5,"y":2002,"v":-8.2},{"c":5,"y":2001,"v":-8.42},{"c":5,"y":2000,"v":-8.53},{"c":5,"y":1999,"v":-8.53},{"c":5,"y":1998,"v":-8.72},{"c":5,"y":1997,"v":-8.67},{"c":5,"y":1996,"v":-8.7},{"c":5,"y":1995,"v":-8.7},{"c":5,"y":1994,"v":-8.72},{"c":5,"y":1993,"v":-9.04},{"c":5,"y":1992,"v":-9.04},{"c":5,"y":1991,"v":-9.04},{"c":5,"y":1990,"v":-9.04},{"c":5,"y":1989,"v":-9.1},{"c":5,"y":1988,"v":-9.47},{"c":5,"y":1987,"v":-9.51},{"c":5,"y":1986,"v":-9.51},{"c":5,"y":1985,"v":-9.53},{"c":5,"y":1984,"v":-9.64},{"c":5,"y":1983,"v":-9.64},{"c":5,"y":1982,"v":-9.64},{"c":5,"y":1981,"v":-9.64},{"c":5,"y":1980,"v":-10.14},{"c":5,"y":1979,"v":-10.14},
{"c":6,"y":2017,"v":-8.11},{"c":6,"y":2016,"v":-8.11},{"c":6,"y":2015,"v":-7.95},{"c":6,"y":2014,"v":-7.95},{"c":6,"y":2013,"v":-7.9},{"c":6,"y":2012,"v":-7.9},{"c":6,"y":2011,"v":-7.9},{"c":6,"y":2010,"v":-7.85},{"c":6,"y":2009,"v":-7.85},{"c":6,"y":2008,"v":-7.82},{"c":6,"y":2007,"v":-7.82},{"c":6,"y":2006,"v":-7.9},{"c":6,"y":2005,"v":-7.9},{"c":6,"y":2004,"v":-7.9},{"c":6,"y":2003,"v":-7.9},{"c":6,"y":2002,"v":-8.12},{"c":6,"y":2001,"v":-8.33},{"c":6,"y":2000,"v":-8.53},{"c":6,"y":1999,"v":-8.53},{"c":6,"y":1998,"v":-8.72},{"c":6,"y":1997,"v":-8.67},{"c":6,"y":1996,"v":-8.7},{"c":6,"y":1995,"v":-8.7},{"c":6,"y":1994,"v":-8.72},{"c":6,"y":1993,"v":-9},{"c":6,"y":1992,"v":-9},{"c":6,"y":1991,"v":-9},{"c":6,"y":1990,"v":-9},{"c":6,"y":1989,"v":-9.05},{"c":6,"y":1988,"v":-9.46},{"c":6,"y":1987,"v":-9.48},{"c":6,"y":1986,"v":-9.48},{"c":6,"y":1985,"v":-9.49},{"c":6,"y":1984,"v":-9.6},{"c":6,"y":1983,"v":-9.6},{"c":6,"y":1982,"v":-9.6},{"c":6,"y":1981,"v":-9.6},{"c":6,"y":1980,"v":-10.12},{"c":6,"y":1979,"v":-10.12},
{"c":7,"y":2017,"v":-8.08},{"c":7,"y":2016,"v":-8.08},{"c":7,"y":2015,"v":-7.92},{"c":7,"y":2014,"v":-7.92},{"c":7,"y":2013,"v":-7.84},{"c":7,"y":2012,"v":-7.84},{"c":7,"y":2011,"v":-7.84},{"c":7,"y":2010,"v":-7.78},{"c":7,"y":2009,"v":-7.78},{"c":7,"y":2008,"v":-7.72},{"c":7,"y":2007,"v":-7.72},{"c":7,"y":2006,"v":-7.77},{"c":7,"y":2005,"v":-7.77},{"c":7,"y":2004,"v":-7.77},{"c":7,"y":2003,"v":-7.77},{"c":7,"y":2002,"v":-8},{"c":7,"y":2001,"v":-8.13},{"c":7,"y":2000,"v":-8.38},{"c":7,"y":1999,"v":-8.38},{"c":7,"y":1998,"v":-8.52},{"c":7,"y":1997,"v":-8.52},{"c":7,"y":1996,"v":-8.54},{"c":7,"y":1995,"v":-8.54},{"c":7,"y":1994,"v":-8.53},{"c":7,"y":1993,"v":-8.96},{"c":7,"y":1992,"v":-8.96},{"c":7,"y":1991,"v":-8.96},{"c":7,"y":1990,"v":-8.96},{"c":7,"y":1989,"v":-8.98},{"c":7,"y":1988,"v":-9.4},{"c":7,"y":1987,"v":-9.45},{"c":7,"y":1986,"v":-9.45},{"c":7,"y":1985,"v":-9.45},{"c":7,"y":1984,"v":-9.55},{"c":7,"y":1983,"v":-9.55},{"c":7,"y":1982,"v":-9.55},{"c":7,"y":1981,"v":-9.55},{"c":7,"y":1980,"v":-10.05},{"c":7,"y":1979,"v":-10.05},
{"c":8,"y":2017,"v":-8.07},{"c":8,"y":2016,"v":-8.07},{"c":8,"y":2015,"v":-7.92},{"c":8,"y":2014,"v":-7.92},{"c":8,"y":2013,"v":-7.85},{"c":8,"y":2012,"v":-7.85},{"c":8,"y":2011,"v":-7.85},{"c":8,"y":2010,"v":-7.78},{"c":8,"y":2009,"v":-7.78},{"c":8,"y":2008,"v":-7.72},{"c":8,"y":2007,"v":-7.72},{"c":8,"y":2006,"v":-7.78},{"c":8,"y":2005,"v":-7.78},{"c":8,"y":2004,"v":-7.78},{"c":8,"y":2003,"v":-7.78},{"c":8,"y":2002,"v":-8.03},{"c":8,"y":2001,"v":-8.15},{"c":8,"y":2000,"v":-8.35},{"c":8,"y":1999,"v":-8.35},{"c":8,"y":1998,"v":-8.47},{"c":8,"y":1997,"v":-8.48},{"c":8,"y":1996,"v":-8.5},{"c":8,"y":1995,"v":-8.52},{"c":8,"y":1994,"v":-8.62},{"c":8,"y":1993,"v":-9.03},{"c":8,"y":1992,"v":-9.03},{"c":8,"y":1991,"v":-9.03},{"c":8,"y":1990,"v":-9.03},{"c":8,"y":1989,"v":-8.98},{"c":8,"y":1988,"v":-9.44},{"c":8,"y":1987,"v":-9.46},{"c":8,"y":1986,"v":-9.46},{"c":8,"y":1985,"v":-9.49},{"c":8,"y":1984,"v":-9.6},{"c":8,"y":1983,"v":-9.6},{"c":8,"y":1982,"v":-9.6},{"c":8,"y":1981,"v":-9.6},{"c":8,"y":1980,"v":-10.08},{"c":8,"y":1979,"v":-10.08},
{"c":9,"y":2017,"v":-8.07},{"c":9,"y":2016,"v":-8.07},{"c":9,"y":2015,"v":-7.88},{"c":9,"y":2014,"v":-7.88},{"c":9,"y":2013,"v":-7.82},{"c":9,"y":2012,"v":-7.82},{"c":9,"y":2011,"v":-7.82},{"c":9,"y":2010,"v":-7.75},{"c":9,"y":2009,"v":-7.75},{"c":9,"y":2008,"v":-7.68},{"c":9,"y":2007,"v":-7.68},{"c":9,"y":2006,"v":-7.74},{"c":9,"y":2005,"v":-7.74},{"c":9,"y":2004,"v":-7.74},{"c":9,"y":2003,"v":-7.74},{"c":9,"y":2002,"v":-7.99},{"c":9,"y":2001,"v":-8.08},{"c":9,"y":2000,"v":-8.22},{"c":9,"y":1999,"v":-8.22},{"c":9,"y":1998,"v":-8.35},{"c":9,"y":1997,"v":-8.35},{"c":9,"y":1996,"v":-8.37},{"c":9,"y":1995,"v":-8.42},{"c":9,"y":1994,"v":-8.6},{"c":9,"y":1993,"v":-8.96},{"c":9,"y":1992,"v":-8.96},{"c":9,"y":1991,"v":-8.96},{"c":9,"y":1990,"v":-8.96},{"c":9,"y":1989,"v":-8.98},{"c":9,"y":1988,"v":-9.33},{"c":9,"y":1987,"v":-9.33},{"c":9,"y":1986,"v":-9.33},{"c":9,"y":1985,"v":-9.44},{"c":9,"y":1984,"v":-9.51},{"c":9,"y":1983,"v":-9.51},{"c":9,"y":1982,"v":-9.51},{"c":9,"y":1981,"v":-9.51},{"c":9,"y":1980,"v":-10.03},{"c":9,"y":1979,"v":-10.03},
{"c":10,"y":2017,"v":-8.06},{"c":10,"y":2016,"v":-8.06},{"c":10,"y":2015,"v":-7.85},{"c":10,"y":2014,"v":-7.85},{"c":10,"y":2013,"v":-7.78},{"c":10,"y":2012,"v":-7.78},{"c":10,"y":2011,"v":-7.78},{"c":10,"y":2010,"v":-7.72},{"c":10,"y":2009,"v":-7.72},{"c":10,"y":2008,"v":-7.63},{"c":10,"y":2007,"v":-7.63},{"c":10,"y":2006,"v":-7.66},{"c":10,"y":2005,"v":-7.66},{"c":10,"y":2004,"v":-7.66},{"c":10,"y":2003,"v":-7.66},{"c":10,"y":2002,"v":-7.86},{"c":10,"y":2001,"v":-7.99},{"c":10,"y":2000,"v":-8.12},{"c":10,"y":1999,"v":-8.12},{"c":10,"y":1998,"v":-8.22},{"c":10,"y":1997,"v":-8.22},{"c":10,"y":1996,"v":-8.23},{"c":10,"y":1995,"v":-8.37},{"c":10,"y":1994,"v":-8.52},{"c":10,"y":1993,"v":-8.99},{"c":10,"y":1992,"v":-8.99},{"c":10,"y":1991,"v":-8.99},{"c":10,"y":1990,"v":-8.99},{"c":10,"y":1989,"v":-8.98},{"c":10,"y":1988,"v":-9.28},{"c":10,"y":1987,"v":-9.3},{"c":10,"y":1986,"v":-9.3},{"c":10,"y":1985,"v":-9.4},{"c":10,"y":1984,"v":-9.49},{"c":10,"y":1983,"v":-9.49},{"c":10,"y":1982,"v":-9.49},{"c":10,"y":1981,"v":-9.49},{"c":10,"y":1980,"v":-10.02},{"c":10,"y":1979,"v":-10.02},
{"c":11,"y":2017,"v":-8.03},{"c":11,"y":2016,"v":-8.03},{"c":11,"y":2015,"v":-7.86},{"c":11,"y":2014,"v":-7.86},{"c":11,"y":2013,"v":-7.78},{"c":11,"y":2012,"v":-7.78},{"c":11,"y":2011,"v":-7.78},{"c":11,"y":2010,"v":-7.75},{"c":11,"y":2009,"v":-7.75},{"c":11,"y":2008,"v":-7.67},{"c":11,"y":2007,"v":-7.67},{"c":11,"y":2006,"v":-7.72},{"c":11,"y":2005,"v":-7.72},{"c":11,"y":2004,"v":-7.72},{"c":11,"y":2003,"v":-7.72},{"c":11,"y":2002,"v":-7.93},{"c":11,"y":2001,"v":-8},{"c":11,"y":2000,"v":-8.12},{"c":11,"y":1999,"v":-8.12},{"c":11,"y":1998,"v":-8.2},{"c":11,"y":1997,"v":-8.2},{"c":11,"y":1996,"v":-8.4},{"c":11,"y":1995,"v":-8.5},{"c":11,"y":1994,"v":-8.64},{"c":11,"y":1993,"v":-8.99},{"c":11,"y":1992,"v":-8.99},{"c":11,"y":1991,"v":-8.99},{"c":11,"y":1990,"v":-8.99},{"c":11,"y":1989,"v":-8.98},{"c":11,"y":1988,"v":-9.28},{"c":11,"y":1987,"v":-9.28},{"c":11,"y":1986,"v":-9.28},{"c":11,"y":1985,"v":-9.4},{"c":11,"y":1984,"v":-9.47},{"c":11,"y":1983,"v":-9.47},{"c":11,"y":1982,"v":-9.47},{"c":11,"y":1981,"v":-9.47},{"c":11,"y":1980,"v":-9.99},{"c":11,"y":1979,"v":-9.99},
{"c":12,"y":2017,"v":-8.24},{"c":12,"y":2016,"v":-8.24},{"c":12,"y":2015,"v":-8.08},{"c":12,"y":2014,"v":-8.08},{"c":12,"y":2013,"v":-8.05},{"c":12,"y":2012,"v":-8.05},{"c":12,"y":2011,"v":-8.05},{"c":12,"y":2010,"v":-8.03},{"c":12,"y":2009,"v":-8.03},{"c":12,"y":2008,"v":-7.98},{"c":12,"y":2007,"v":-7.98},{"c":12,"y":2006,"v":-8.04},{"c":12,"y":2005,"v":-8.04},{"c":12,"y":2004,"v":-8.04},{"c":12,"y":2003,"v":-8.12},{"c":12,"y":2002,"v":-8.27},{"c":12,"y":2001,"v":-8.35},{"c":12,"y":2000,"v":-8.41},{"c":12,"y":1999,"v":-8.41},{"c":12,"y":1998,"v":-8.5},{"c":12,"y":1997,"v":-8.52},{"c":12,"y":1996,"v":-8.53},{"c":12,"y":1995,"v":-8.8},{"c":12,"y":1994,"v":-9.12},{"c":12,"y":1993,"v":-9.38},{"c":12,"y":1992,"v":-9.38},{"c":12,"y":1991,"v":-9.38},{"c":12,"y":1990,"v":-9.38},{"c":12,"y":1989,"v":-9.42},{"c":12,"y":1988,"v":-9.49},{"c":12,"y":1987,"v":-9.5},{"c":12,"y":1986,"v":-9.5},{"c":12,"y":1985,"v":-9.62},{"c":12,"y":1984,"v":-9.72},{"c":12,"y":1983,"v":-9.72},{"c":12,"y":1982,"v":-9.72},{"c":12,"y":1981,"v":-9.72},{"c":12,"y":1980,"v":-10.27},{"c":12,"y":1979,"v":-10.27},
{"c":13,"y":2017,"v":-8.22},{"c":13,"y":2016,"v":-8.22},{"c":13,"y":2015,"v":-8.08},{"c":13,"y":2014,"v":-8.08},{"c":13,"y":2013,"v":-8.04},{"c":13,"y":2012,"v":-8.04},{"c":13,"y":2011,"v":-8.04},{"c":13,"y":2010,"v":-8.04},{"c":13,"y":2009,"v":-8.04},{"c":13,"y":2008,"v":-8},{"c":13,"y":2007,"v":-8},{"c":13,"y":2006,"v":-8.07},{"c":13,"y":2005,"v":-8.07},{"c":13,"y":2004,"v":-8.07},{"c":13,"y":2003,"v":-8.13},{"c":13,"y":2002,"v":-8.28},{"c":13,"y":2001,"v":-8.37},{"c":13,"y":2000,"v":-8.41},{"c":13,"y":1999,"v":-8.41},{"c":13,"y":1998,"v":-8.5},{"c":13,"y":1997,"v":-8.52},{"c":13,"y":1996,"v":-8.53},{"c":13,"y":1995,"v":-8.8},{"c":13,"y":1994,"v":-9.12},{"c":13,"y":1993,"v":-9.3},{"c":13,"y":1992,"v":-9.3},{"c":13,"y":1991,"v":-9.3},{"c":13,"y":1990,"v":-9.3},{"c":13,"y":1989,"v":-9.33},{"c":13,"y":1988,"v":-9.46},{"c":13,"y":1987,"v":-9.46},{"c":13,"y":1986,"v":-9.46},{"c":13,"y":1985,"v":-9.57},{"c":13,"y":1984,"v":-9.69},{"c":13,"y":1983,"v":-9.69},{"c":13,"y":1982,"v":-9.69},{"c":13,"y":1981,"v":-9.69},{"c":13,"y":1980,"v":-10.22},{"c":13,"y":1979,"v":-10.22},
{"c":14,"y":2017,"v":-8.23},{"c":14,"y":2016,"v":-8.23},{"c":14,"y":2015,"v":-8.07},{"c":14,"y":2014,"v":-8.07},{"c":14,"y":2013,"v":-8.04},{"c":14,"y":2012,"v":-8.04},{"c":14,"y":2011,"v":-8.04},{"c":14,"y":2010,"v":-8.04},{"c":14,"y":2009,"v":-8.04},{"c":14,"y":2008,"v":-8},{"c":14,"y":2007,"v":-8},{"c":14,"y":2006,"v":-8.07},{"c":14,"y":2005,"v":-8.07},{"c":14,"y":2004,"v":-8.07},{"c":14,"y":2003,"v":-8.13},{"c":14,"y":2002,"v":-8.28},{"c":14,"y":2001,"v":-8.36},{"c":14,"y":2000,"v":-8.41},{"c":14,"y":1999,"v":-8.41},{"c":14,"y":1998,"v":-8.5},{"c":14,"y":1997,"v":-8.52},{"c":14,"y":1996,"v":-8.53},{"c":14,"y":1995,"v":-8.8},{"c":14,"y":1994,"v":-9.12},{"c":14,"y":1993,"v":-9.28},{"c":14,"y":1992,"v":-9.28},{"c":14,"y":1991,"v":-9.28},{"c":14,"y":1990,"v":-9.28},{"c":14,"y":1989,"v":-9.33},{"c":14,"y":1988,"v":-9.45},{"c":14,"y":1987,"v":-9.45},{"c":14,"y":1986,"v":-9.45},{"c":14,"y":1985,"v":-9.56},{"c":14,"y":1984,"v":-9.68},{"c":14,"y":1983,"v":-9.68},{"c":14,"y":1982,"v":-9.68},{"c":14,"y":1981,"v":-9.68},{"c":14,"y":1980,"v":-10.18},{"c":14,"y":1979,"v":-10.18},
{"c":15,"y":2017,"v":-8.24},{"c":15,"y":2016,"v":-8.24},{"c":15,"y":2015,"v":-8.07},{"c":15,"y":2014,"v":-8.07},{"c":15,"y":2013,"v":-8.05},{"c":15,"y":2012,"v":-8.05},{"c":15,"y":2011,"v":-8.05},{"c":15,"y":2010,"v":-8.08},{"c":15,"y":2009,"v":-8.08},{"c":15,"y":2008,"v":-8.04},{"c":15,"y":2007,"v":-8.04},{"c":15,"y":2006,"v":-8.09},{"c":15,"y":2005,"v":-8.09},{"c":15,"y":2004,"v":-8.09},{"c":15,"y":2003,"v":-8.14},{"c":15,"y":2002,"v":-8.3},{"c":15,"y":2001,"v":-8.36},{"c":15,"y":2000,"v":-8.41},{"c":15,"y":1999,"v":-8.41},{"c":15,"y":1998,"v":-8.5},{"c":15,"y":1997,"v":-8.52},{"c":15,"y":1996,"v":-8.53},{"c":15,"y":1995,"v":-8.8},{"c":15,"y":1994,"v":-9.12},{"c":15,"y":1993,"v":-9.3},{"c":15,"y":1992,"v":-9.3},{"c":15,"y":1991,"v":-9.3},{"c":15,"y":1990,"v":-9.3},{"c":15,"y":1989,"v":-9.33},{"c":15,"y":1988,"v":-9.45},{"c":15,"y":1987,"v":-9.44},{"c":15,"y":1986,"v":-9.44},{"c":15,"y":1985,"v":-9.56},{"c":15,"y":1984,"v":-9.69},{"c":15,"y":1983,"v":-9.69},{"c":15,"y":1982,"v":-9.69},{"c":15,"y":1981,"v":-9.69},{"c":15,"y":1980,"v":-10.16},{"c":15,"y":1979,"v":-10.16},
{"c":16,"y":2017,"v":-8.23},{"c":16,"y":2016,"v":-8.23},{"c":16,"y":2015,"v":-8.07},{"c":16,"y":2014,"v":-8.07},{"c":16,"y":2013,"v":-8.06},{"c":16,"y":2012,"v":-8.06},{"c":16,"y":2011,"v":-8.06},{"c":16,"y":2010,"v":-8.08},{"c":16,"y":2009,"v":-8.08},{"c":16,"y":2008,"v":-8.06},{"c":16,"y":2007,"v":-8.06},{"c":16,"y":2006,"v":-8.1},{"c":16,"y":2005,"v":-8.1},{"c":16,"y":2004,"v":-8.1},{"c":16,"y":2003,"v":-8.14},{"c":16,"y":2002,"v":-8.27},{"c":16,"y":2001,"v":-8.36},{"c":16,"y":2000,"v":-8.41},{"c":16,"y":1999,"v":-8.41},{"c":16,"y":1998,"v":-8.5},{"c":16,"y":1997,"v":-8.52},{"c":16,"y":1996,"v":-8.53},{"c":16,"y":1995,"v":-8.8},{"c":16,"y":1994,"v":-9.12},{"c":16,"y":1993,"v":-9.32},{"c":16,"y":1992,"v":-9.32},{"c":16,"y":1991,"v":-9.32},{"c":16,"y":1990,"v":-9.32},{"c":16,"y":1989,"v":-9.33},{"c":16,"y":1988,"v":-9.45},{"c":16,"y":1987,"v":-9.46},{"c":16,"y":1986,"v":-9.46},{"c":16,"y":1985,"v":-9.59},{"c":16,"y":1984,"v":-9.69},{"c":16,"y":1983,"v":-9.69},{"c":16,"y":1982,"v":-9.69},{"c":16,"y":1981,"v":-9.69},{"c":16,"y":1980,"v":-10.14},{"c":16,"y":1979,"v":-10.14}
],
"edges":[{"c":1},{"c":2},{"c":3},{"c":4},{"c":5},{"c":6},{"c":7},{"c":8},{"c":9},{"c":10},{"c":11},{"c":12},{"c":13},{"c":14},{"c":15},{"c":16}],"lastEdge":[{"c":16}],"tagA":[{"c":1,"y":2017,"t":"a)"}],"tagB":[{"c":1,"y":2017,"t":"b)"}],"sub":[{"c":16,"y":2010,"t":"HR"}]},
"config":{"view":{"stroke":null},"font":"Liberation Sans","axis":{"grid":false,"domainColor":"black","domainWidth":2,"tickColor":"#333333","tickWidth":2,"tickSize":7,"labelColor":"#4d4d4d","labelFontSize":24,"labelAngle":0,"titleFontSize":28,"titleFontWeight":"normal","titleColor":"black"},"axisX":{"labelPadding":5,"titleFontSize":29,"titlePadding":5.5},"axisY":{"labelPadding":7,"titlePadding":8},"legend":{"titleFontSize":29,"titleFontWeight":"normal","labelFontSize":23,"labelColor":"black","titleColor":"black"},"title":{"fontSize":35.4,"fontWeight":"normal","color":"black"}},
"vconcat":[
{"width":666,"height":487,"title":{"text":"Individualized sub-catchments","anchor":"start","frame":"group","offset":-37.3},
"layer":[
{"data":{"name":"a"},"mark":{"type":"rect"},"encoding":{
"x":{"field":"c","type":"ordinal","title":null,"scale":{"domain":[1,2,3,4,5,6,7,8,9,10,11,12,13,14,15,16],"paddingInner":0,"paddingOuter":0.8,"round":false},"axis":{"labelAngle":0}},
"y":{"field":"y","type":"ordinal","title":"Year","scale":{"domain":[2018,2017,2016,2015,2014,2013,2012,2011,2010,2009,2008,2007,2006,2005,2004,2003,2002,2001,2000,1999,1998,1997,1996,1995,1994,1993,1992,1991,1990,1989,1988,1987,1986,1985,1984,1983,1982,1981,1980,1979,1978],"paddingInner":0,"paddingOuter":0.95,"round":false},"axis":{"values":[2010,2000,1990,1980]}},
"color":{"field":"v","type":"quantitative","title":"Mean IC","scale":{"interpolate":"lab","domain":[-10.98,-10.338,-9.697,-9.055,-8.413,-7.772,-7.13],"range":["#3288BD","#99D594","#E6F598","#FFFFBF","#FEE08B","#FC8D59","#D53E4F"]},"legend":{"title":"Mean IC","orient":"none","legendX":711,"legendY":132,"gradientLength":182,"gradientThickness":36,"values":[-10,-9,-8],"labelExpr":"replace(format(datum.value,'d'),'−','-')","labelOffset":18,"titlePadding":16,"labelOverlap":false}}}},
{"data":{"name":"a"},"mark":{"type":"rect"},"encoding":{"x":{"field":"c","type":"ordinal"},"y":{"field":"y","type":"ordinal"},"color":{"field":"v","type":"quantitative","title":"Mean IC"}}},
{"data":{"name":"edges"},"mark":{"type":"rule","color":"#bbbbbb","strokeDash":[8,6],"strokeWidth":2},"encoding":{"x":{"field":"c","type":"ordinal","bandPosition":0}}},
{"data":{"name":"lastEdge"},"mark":{"type":"rule","color":"#bbbbbb","strokeDash":[8,6],"strokeWidth":2},"encoding":{"x":{"field":"c","type":"ordinal","bandPosition":1}}},
{"data":{"name":"tagA"},"mark":{"type":"text","align":"left","baseline":"alphabetic","dx":-152,"dy":-56.7,"fontSize":28,"fontWeight":"bold","color":"black"},"encoding":{"x":{"field":"c","type":"ordinal"},"y":{"field":"y","type":"ordinal"},"text":{"field":"t"}}},
{"data":{"name":"sub"},"mark":{"type":"text","align":"left","baseline":"alphabetic","dx":203,"dy":52,"fontSize":20,"color":"black"},"encoding":{"x":{"field":"c","type":"ordinal"},"y":{"field":"y","type":"ordinal"},"text":{"field":"t"}}}
]},
{"width":666,"height":452,"title":{"text":"Cumulated sub-catchments","anchor":"start","frame":"group","offset":-37.3},
"layer":[
{"data":{"name":"b"},"mark":{"type":"rect"},"encoding":{
"x":{"field":"c","type":"ordinal","title":"Sub-catchment number","scale":{"domain":[1,2,3,4,5,6,7,8,9,10,11,12,13,14,15,16],"paddingInner":0,"paddingOuter":0.8,"round":false},"axis":{"labelAngle":0}},
"y":{"field":"y","type":"ordinal","title":"Year","scale":{"domain":[2018,2017,2016,2015,2014,2013,2012,2011,2010,2009,2008,2007,2006,2005,2004,2003,2002,2001,2000,1999,1998,1997,1996,1995,1994,1993,1992,1991,1990,1989,1988,1987,1986,1985,1984,1983,1982,1981,1980,1979,1978],"paddingInner":0,"paddingOuter":0.95,"round":false},"axis":{"values":[2010,2000,1990,1980]}},
"color":{"field":"v","type":"quantitative","title":"Mean IC","scale":{"interpolate":"lab","domain":[-10.38,-9.917,-9.453,-8.99,-8.527,-8.063,-7.6],"range":["#3288BD","#99D594","#E6F598","#FFFFBF","#FEE08B","#FC8D59","#D53E4F"]},"legend":{"title":"Mean IC","orient":"none","legendX":711,"legendY":114,"gradientLength":182,"gradientThickness":36,"values":[-10,-9.5,-9,-8.5,-8],"labelExpr":"replace(format(datum.value,'.1f'),'−','-')","labelOffset":18,"titlePadding":16,"labelOverlap":false}}}},
{"data":{"name":"b"},"mark":{"type":"rect"},"encoding":{"x":{"field":"c","type":"ordinal"},"y":{"field":"y","type":"ordinal"},"color":{"field":"v","type":"quantitative","title":"Mean IC"}}},
{"data":{"name":"tagB"},"mark":{"type":"text","align":"left","baseline":"alphabetic","dx":-151,"dy":-55,"fontSize":28,"fontWeight":"bold","color":"black"},"encoding":{"x":{"field":"c","type":"ordinal"},"y":{"field":"y","type":"ordinal"},"text":{"field":"t"}}},
{"data":{"name":"sub"},"mark":{"type":"text","align":"left","baseline":"alphabetic","dx":203,"dy":41.5,"fontSize":20,"color":"black"},"encoding":{"x":{"field":"c","type":"ordinal"},"y":{"field":"y","type":"ordinal"},"text":{"field":"t"}}}
]}
]}
